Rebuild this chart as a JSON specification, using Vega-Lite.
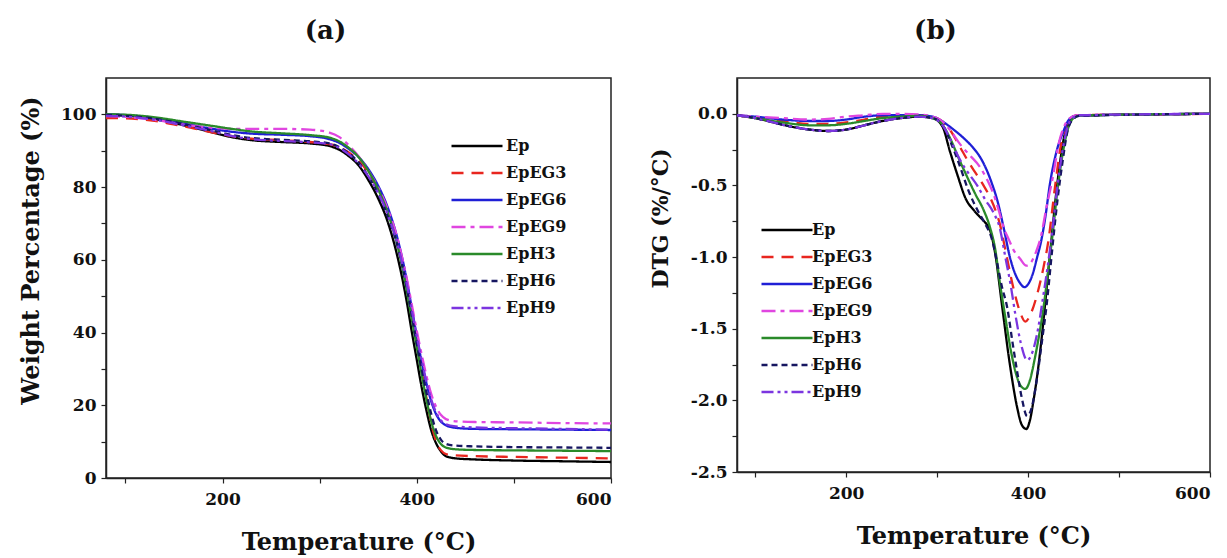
{
"$schema": "https://vega.github.io/schema/vega-lite/v6.json",
"background": "white",
"padding": {"left": 18, "top": 16, "right": 5, "bottom": 0},
"config": {
  "font": "DejaVu Serif",
  "view": {"stroke": "#222", "strokeWidth": 1.5},
  "axis": {"grid": false, "domainColor": "#222", "domainWidth": 1.5, "tickColor": "#222", "tickWidth": 1.2, "tickSize": 5, "labelFont": "DejaVu Serif", "labelFontWeight": "bold", "labelFontSize": 17, "labelColor": "#111", "titleFont": "DejaVu Serif", "titleFontWeight": "bold", "titleFontSize": 24, "titleColor": "#111", "labelPadding": 5},
  "axisX": {"labelPadding": 8, "titlePadding": 23},
  "legend": {"labelFont": "DejaVu Serif", "labelFontWeight": "bold", "labelFontSize": 16, "labelColor": "#111", "symbolType": "M-8.5,0H8.5", "symbolSize": 36, "symbolStrokeWidth": 2.5, "symbolFillColor": "transparent", "labelOffset": 21, "padding": 0, "rowPadding": 11},
  "title": {"font": "DejaVu Serif", "fontSize": 26, "fontWeight": "bold", "color": "#111"},
  "concat": {"spacing": 31}
},
"datasets": {
"tga": [
{"s":"Ep","T":80,"W":100},{"s":"Ep","T":100,"W":99.7},{"s":"Ep","T":130,"W":98.7},{"s":"Ep","T":160,"W":97},{"s":"Ep","T":190,"W":95},{"s":"Ep","T":210,"W":93.7},{"s":"Ep","T":230,"W":92.9},{"s":"Ep","T":260,"W":92.4},{"s":"Ep","T":290,"W":92},{"s":"Ep","T":310,"W":91.3},{"s":"Ep","T":320,"W":90.3},{"s":"Ep","T":330,"W":88.5},{"s":"Ep","T":340,"W":86},{"s":"Ep","T":350,"W":82},{"s":"Ep","T":360,"W":77},{"s":"Ep","T":370,"W":70.5},{"s":"Ep","T":380,"W":61},{"s":"Ep","T":385,"W":55},{"s":"Ep","T":390,"W":48},{"s":"Ep","T":395,"W":40},{"s":"Ep","T":400,"W":32.5},{"s":"Ep","T":405,"W":25},{"s":"Ep","T":410,"W":18.5},{"s":"Ep","T":415,"W":13},{"s":"Ep","T":420,"W":9.5},{"s":"Ep","T":425,"W":7.3},{"s":"Ep","T":430,"W":6.0},{"s":"Ep","T":440,"W":5.4},{"s":"Ep","T":460,"W":5.1},{"s":"Ep","T":500,"W":4.8},{"s":"Ep","T":550,"W":4.6},{"s":"Ep","T":600,"W":4.4},
{"s":"EpEG3","T":80,"W":99},{"s":"EpEG3","T":100,"W":98.9},{"s":"EpEG3","T":130,"W":98.2},{"s":"EpEG3","T":160,"W":96.7},{"s":"EpEG3","T":190,"W":95},{"s":"EpEG3","T":210,"W":94},{"s":"EpEG3","T":230,"W":93.3},{"s":"EpEG3","T":260,"W":92.9},{"s":"EpEG3","T":290,"W":92.4},{"s":"EpEG3","T":310,"W":91.8},{"s":"EpEG3","T":320,"W":91},{"s":"EpEG3","T":330,"W":89.5},{"s":"EpEG3","T":340,"W":87.3},{"s":"EpEG3","T":350,"W":84},{"s":"EpEG3","T":360,"W":79.5},{"s":"EpEG3","T":370,"W":73.5},{"s":"EpEG3","T":380,"W":65},{"s":"EpEG3","T":385,"W":59},{"s":"EpEG3","T":390,"W":52},{"s":"EpEG3","T":395,"W":44.5},{"s":"EpEG3","T":400,"W":37},{"s":"EpEG3","T":405,"W":29.5},{"s":"EpEG3","T":410,"W":22},{"s":"EpEG3","T":415,"W":15},{"s":"EpEG3","T":420,"W":10},{"s":"EpEG3","T":425,"W":7.6},{"s":"EpEG3","T":430,"W":6.6},{"s":"EpEG3","T":440,"W":6.2},{"s":"EpEG3","T":460,"W":6.0},{"s":"EpEG3","T":500,"W":5.8},{"s":"EpEG3","T":550,"W":5.6},{"s":"EpEG3","T":600,"W":5.4},
{"s":"EpEG6","T":80,"W":100},{"s":"EpEG6","T":100,"W":99.8},{"s":"EpEG6","T":130,"W":99},{"s":"EpEG6","T":160,"W":97.5},{"s":"EpEG6","T":190,"W":96},{"s":"EpEG6","T":210,"W":95.2},{"s":"EpEG6","T":230,"W":94.7},{"s":"EpEG6","T":260,"W":94.4},{"s":"EpEG6","T":290,"W":94},{"s":"EpEG6","T":310,"W":93.2},{"s":"EpEG6","T":320,"W":92.2},{"s":"EpEG6","T":330,"W":90.5},{"s":"EpEG6","T":340,"W":88.3},{"s":"EpEG6","T":350,"W":85},{"s":"EpEG6","T":360,"W":80.5},{"s":"EpEG6","T":370,"W":74.5},{"s":"EpEG6","T":380,"W":66},{"s":"EpEG6","T":385,"W":60.5},{"s":"EpEG6","T":390,"W":54},{"s":"EpEG6","T":395,"W":46.5},{"s":"EpEG6","T":400,"W":39},{"s":"EpEG6","T":405,"W":32},{"s":"EpEG6","T":410,"W":26},{"s":"EpEG6","T":415,"W":21},{"s":"EpEG6","T":420,"W":17.5},{"s":"EpEG6","T":425,"W":15.5},{"s":"EpEG6","T":430,"W":14.5},{"s":"EpEG6","T":440,"W":13.8},{"s":"EpEG6","T":460,"W":13.5},{"s":"EpEG6","T":500,"W":13.4},{"s":"EpEG6","T":550,"W":13.3},{"s":"EpEG6","T":600,"W":13.2},
{"s":"EpEG9","T":80,"W":99.5},{"s":"EpEG9","T":100,"W":99.3},{"s":"EpEG9","T":130,"W":98.5},{"s":"EpEG9","T":160,"W":97.2},{"s":"EpEG9","T":190,"W":96.3},{"s":"EpEG9","T":210,"W":96},{"s":"EpEG9","T":230,"W":96},{"s":"EpEG9","T":260,"W":96},{"s":"EpEG9","T":290,"W":95.8},{"s":"EpEG9","T":310,"W":95},{"s":"EpEG9","T":320,"W":93.8},{"s":"EpEG9","T":330,"W":91.5},{"s":"EpEG9","T":340,"W":88.5},{"s":"EpEG9","T":350,"W":84.5},{"s":"EpEG9","T":360,"W":80},{"s":"EpEG9","T":370,"W":74},{"s":"EpEG9","T":380,"W":66},{"s":"EpEG9","T":385,"W":60.5},{"s":"EpEG9","T":390,"W":54.5},{"s":"EpEG9","T":395,"W":47.5},{"s":"EpEG9","T":400,"W":40.5},{"s":"EpEG9","T":405,"W":34},{"s":"EpEG9","T":410,"W":28},{"s":"EpEG9","T":415,"W":23},{"s":"EpEG9","T":420,"W":19.5},{"s":"EpEG9","T":425,"W":17.3},{"s":"EpEG9","T":430,"W":16.2},{"s":"EpEG9","T":440,"W":15.6},{"s":"EpEG9","T":460,"W":15.4},{"s":"EpEG9","T":500,"W":15.3},{"s":"EpEG9","T":550,"W":15.1},{"s":"EpEG9","T":600,"W":15.0},
{"s":"EpH3","T":80,"W":100},{"s":"EpH3","T":100,"W":99.9},{"s":"EpH3","T":130,"W":99.2},{"s":"EpH3","T":160,"W":98},{"s":"EpH3","T":190,"W":96.8},{"s":"EpH3","T":210,"W":96},{"s":"EpH3","T":230,"W":95.3},{"s":"EpH3","T":260,"W":94.8},{"s":"EpH3","T":290,"W":94.3},{"s":"EpH3","T":310,"W":93.6},{"s":"EpH3","T":320,"W":92.6},{"s":"EpH3","T":330,"W":90.8},{"s":"EpH3","T":340,"W":88.3},{"s":"EpH3","T":350,"W":84.5},{"s":"EpH3","T":360,"W":79.5},{"s":"EpH3","T":370,"W":73},{"s":"EpH3","T":380,"W":64},{"s":"EpH3","T":385,"W":58},{"s":"EpH3","T":390,"W":51},{"s":"EpH3","T":395,"W":43.5},{"s":"EpH3","T":400,"W":36},{"s":"EpH3","T":405,"W":28.5},{"s":"EpH3","T":410,"W":21.5},{"s":"EpH3","T":415,"W":15.5},{"s":"EpH3","T":420,"W":11.5},{"s":"EpH3","T":425,"W":9.3},{"s":"EpH3","T":430,"W":8.4},{"s":"EpH3","T":440,"W":7.9},{"s":"EpH3","T":460,"W":7.7},{"s":"EpH3","T":500,"W":7.6},{"s":"EpH3","T":550,"W":7.5},{"s":"EpH3","T":600,"W":7.4},
{"s":"EpH6","T":80,"W":99.8},{"s":"EpH6","T":100,"W":99.6},{"s":"EpH6","T":130,"W":98.8},{"s":"EpH6","T":160,"W":97.3},{"s":"EpH6","T":190,"W":95.5},{"s":"EpH6","T":210,"W":94.3},{"s":"EpH6","T":230,"W":93.5},{"s":"EpH6","T":260,"W":93},{"s":"EpH6","T":290,"W":92.6},{"s":"EpH6","T":310,"W":92},{"s":"EpH6","T":320,"W":91},{"s":"EpH6","T":330,"W":89.3},{"s":"EpH6","T":340,"W":86.8},{"s":"EpH6","T":350,"W":83},{"s":"EpH6","T":360,"W":78.3},{"s":"EpH6","T":370,"W":72},{"s":"EpH6","T":380,"W":64},{"s":"EpH6","T":385,"W":58.5},{"s":"EpH6","T":390,"W":52},{"s":"EpH6","T":395,"W":44.5},{"s":"EpH6","T":400,"W":37},{"s":"EpH6","T":405,"W":30},{"s":"EpH6","T":410,"W":23.5},{"s":"EpH6","T":415,"W":17.5},{"s":"EpH6","T":420,"W":13},{"s":"EpH6","T":425,"W":10.5},{"s":"EpH6","T":430,"W":9.4},{"s":"EpH6","T":440,"W":8.9},{"s":"EpH6","T":460,"W":8.7},{"s":"EpH6","T":500,"W":8.5},{"s":"EpH6","T":550,"W":8.4},{"s":"EpH6","T":600,"W":8.3},
{"s":"EpH9","T":80,"W":99.6},{"s":"EpH9","T":100,"W":99.4},{"s":"EpH9","T":130,"W":98.5},{"s":"EpH9","T":160,"W":97},{"s":"EpH9","T":190,"W":95.3},{"s":"EpH9","T":210,"W":94},{"s":"EpH9","T":230,"W":93.2},{"s":"EpH9","T":260,"W":92.7},{"s":"EpH9","T":290,"W":92.3},{"s":"EpH9","T":310,"W":91.8},{"s":"EpH9","T":320,"W":90.8},{"s":"EpH9","T":330,"W":89},{"s":"EpH9","T":340,"W":86.5},{"s":"EpH9","T":350,"W":83},{"s":"EpH9","T":360,"W":78.5},{"s":"EpH9","T":370,"W":72.5},{"s":"EpH9","T":380,"W":64.5},{"s":"EpH9","T":385,"W":59},{"s":"EpH9","T":390,"W":53},{"s":"EpH9","T":395,"W":46},{"s":"EpH9","T":400,"W":39},{"s":"EpH9","T":405,"W":32.5},{"s":"EpH9","T":410,"W":26.5},{"s":"EpH9","T":415,"W":21.5},{"s":"EpH9","T":420,"W":18},{"s":"EpH9","T":425,"W":15.8},{"s":"EpH9","T":430,"W":14.8},{"s":"EpH9","T":440,"W":14.2},{"s":"EpH9","T":460,"W":13.9},{"s":"EpH9","T":500,"W":13.7},{"s":"EpH9","T":550,"W":13.5},{"s":"EpH9","T":600,"W":13.3}
],
"dtg": [
{"s":"Ep","T":80,"D":-0.01},{"s":"Ep","T":100,"D":-0.03},{"s":"Ep","T":120,"D":-0.06},{"s":"Ep","T":140,"D":-0.09},{"s":"Ep","T":160,"D":-0.11},{"s":"Ep","T":180,"D":-0.12},{"s":"Ep","T":200,"D":-0.11},{"s":"Ep","T":220,"D":-0.08},{"s":"Ep","T":240,"D":-0.05},{"s":"Ep","T":260,"D":-0.03},{"s":"Ep","T":280,"D":-0.02},{"s":"Ep","T":295,"D":-0.03},{"s":"Ep","T":306,"D":-0.09},{"s":"Ep","T":314,"D":-0.26},{"s":"Ep","T":322,"D":-0.42},{"s":"Ep","T":332,"D":-0.6},{"s":"Ep","T":340,"D":-0.67},{"s":"Ep","T":347,"D":-0.72},{"s":"Ep","T":353,"D":-0.76},{"s":"Ep","T":358,"D":-0.81},{"s":"Ep","T":364,"D":-0.98},{"s":"Ep","T":371,"D":-1.32},{"s":"Ep","T":380,"D":-1.75},{"s":"Ep","T":388,"D":-2.05},{"s":"Ep","T":393,"D":-2.17},{"s":"Ep","T":398,"D":-2.2},{"s":"Ep","T":402,"D":-2.14},{"s":"Ep","T":406,"D":-2.0},{"s":"Ep","T":411,"D":-1.78},{"s":"Ep","T":416,"D":-1.5},{"s":"Ep","T":421,"D":-1.18},{"s":"Ep","T":426,"D":-0.86},{"s":"Ep","T":431,"D":-0.55},{"s":"Ep","T":436,"D":-0.3},{"s":"Ep","T":441,"D":-0.12},{"s":"Ep","T":446,"D":-0.04},{"s":"Ep","T":452,"D":-0.015},{"s":"Ep","T":470,"D":-0.01},{"s":"Ep","T":520,"D":-0.005},{"s":"Ep","T":600,"D":0},
{"s":"EpEG3","T":80,"D":-0.01},{"s":"EpEG3","T":100,"D":-0.03},{"s":"EpEG3","T":130,"D":-0.05},{"s":"EpEG3","T":160,"D":-0.07},{"s":"EpEG3","T":180,"D":-0.07},{"s":"EpEG3","T":200,"D":-0.06},{"s":"EpEG3","T":220,"D":-0.04},{"s":"EpEG3","T":240,"D":-0.02},{"s":"EpEG3","T":260,"D":-0.015},{"s":"EpEG3","T":280,"D":-0.01},{"s":"EpEG3","T":295,"D":-0.02},{"s":"EpEG3","T":305,"D":-0.05},{"s":"EpEG3","T":315,"D":-0.12},{"s":"EpEG3","T":325,"D":-0.23},{"s":"EpEG3","T":334,"D":-0.33},{"s":"EpEG3","T":343,"D":-0.42},{"s":"EpEG3","T":351,"D":-0.5},{"s":"EpEG3","T":358,"D":-0.58},{"s":"EpEG3","T":364,"D":-0.67},{"s":"EpEG3","T":369,"D":-0.77},{"s":"EpEG3","T":376,"D":-0.98},{"s":"EpEG3","T":384,"D":-1.22},{"s":"EpEG3","T":391,"D":-1.38},{"s":"EpEG3","T":397,"D":-1.45},{"s":"EpEG3","T":404,"D":-1.38},{"s":"EpEG3","T":410,"D":-1.26},{"s":"EpEG3","T":417,"D":-1.07},{"s":"EpEG3","T":422,"D":-0.9},{"s":"EpEG3","T":430,"D":-0.49},{"s":"EpEG3","T":436,"D":-0.22},{"s":"EpEG3","T":442,"D":-0.08},{"s":"EpEG3","T":448,"D":-0.025},{"s":"EpEG3","T":456,"D":-0.01},{"s":"EpEG3","T":520,"D":-0.005},{"s":"EpEG3","T":600,"D":0},
{"s":"EpEG6","T":80,"D":-0.01},{"s":"EpEG6","T":100,"D":-0.02},{"s":"EpEG6","T":130,"D":-0.04},{"s":"EpEG6","T":160,"D":-0.05},{"s":"EpEG6","T":180,"D":-0.05},{"s":"EpEG6","T":200,"D":-0.04},{"s":"EpEG6","T":220,"D":-0.02},{"s":"EpEG6","T":240,"D":-0.01},{"s":"EpEG6","T":260,"D":-0.01},{"s":"EpEG6","T":280,"D":-0.01},{"s":"EpEG6","T":295,"D":-0.02},{"s":"EpEG6","T":305,"D":-0.05},{"s":"EpEG6","T":314,"D":-0.09},{"s":"EpEG6","T":322,"D":-0.13},{"s":"EpEG6","T":331,"D":-0.18},{"s":"EpEG6","T":340,"D":-0.24},{"s":"EpEG6","T":348,"D":-0.31},{"s":"EpEG6","T":355,"D":-0.4},{"s":"EpEG6","T":361,"D":-0.5},{"s":"EpEG6","T":366,"D":-0.6},{"s":"EpEG6","T":373,"D":-0.79},{"s":"EpEG6","T":380,"D":-1.0},{"s":"EpEG6","T":386,"D":-1.12},{"s":"EpEG6","T":391,"D":-1.18},{"s":"EpEG6","T":396,"D":-1.21},{"s":"EpEG6","T":400,"D":-1.19},{"s":"EpEG6","T":405,"D":-1.12},{"s":"EpEG6","T":410,"D":-1.0},{"s":"EpEG6","T":414,"D":-0.9},{"s":"EpEG6","T":419,"D":-0.72},{"s":"EpEG6","T":424,"D":-0.49},{"s":"EpEG6","T":431,"D":-0.27},{"s":"EpEG6","T":439,"D":-0.12},{"s":"EpEG6","T":445,"D":-0.04},{"s":"EpEG6","T":452,"D":-0.015},{"s":"EpEG6","T":470,"D":-0.01},{"s":"EpEG6","T":600,"D":0},
{"s":"EpEG9","T":80,"D":-0.01},{"s":"EpEG9","T":100,"D":-0.02},{"s":"EpEG9","T":130,"D":-0.03},{"s":"EpEG9","T":160,"D":-0.04},{"s":"EpEG9","T":180,"D":-0.035},{"s":"EpEG9","T":200,"D":-0.02},{"s":"EpEG9","T":220,"D":-0.01},{"s":"EpEG9","T":240,"D":0.0},{"s":"EpEG9","T":260,"D":0.0},{"s":"EpEG9","T":280,"D":-0.005},{"s":"EpEG9","T":295,"D":-0.02},{"s":"EpEG9","T":305,"D":-0.05},{"s":"EpEG9","T":315,"D":-0.12},{"s":"EpEG9","T":325,"D":-0.21},{"s":"EpEG9","T":336,"D":-0.29},{"s":"EpEG9","T":347,"D":-0.37},{"s":"EpEG9","T":355,"D":-0.46},{"s":"EpEG9","T":362,"D":-0.56},{"s":"EpEG9","T":368,"D":-0.68},{"s":"EpEG9","T":373,"D":-0.79},{"s":"EpEG9","T":379,"D":-0.88},{"s":"EpEG9","T":384,"D":-0.95},{"s":"EpEG9","T":391,"D":-1.01},{"s":"EpEG9","T":398,"D":-1.06},{"s":"EpEG9","T":404,"D":-1.03},{"s":"EpEG9","T":409,"D":-0.96},{"s":"EpEG9","T":414,"D":-0.86},{"s":"EpEG9","T":420,"D":-0.66},{"s":"EpEG9","T":427,"D":-0.45},{"s":"EpEG9","T":434,"D":-0.2},{"s":"EpEG9","T":441,"D":-0.07},{"s":"EpEG9","T":447,"D":-0.025},{"s":"EpEG9","T":455,"D":-0.01},{"s":"EpEG9","T":600,"D":0},
{"s":"EpH3","T":80,"D":-0.01},{"s":"EpH3","T":100,"D":-0.03},{"s":"EpH3","T":130,"D":-0.06},{"s":"EpH3","T":160,"D":-0.08},{"s":"EpH3","T":180,"D":-0.08},{"s":"EpH3","T":200,"D":-0.07},{"s":"EpH3","T":220,"D":-0.05},{"s":"EpH3","T":240,"D":-0.03},{"s":"EpH3","T":260,"D":-0.02},{"s":"EpH3","T":280,"D":-0.015},{"s":"EpH3","T":295,"D":-0.03},{"s":"EpH3","T":305,"D":-0.07},{"s":"EpH3","T":315,"D":-0.18},{"s":"EpH3","T":323,"D":-0.3},{"s":"EpH3","T":333,"D":-0.44},{"s":"EpH3","T":342,"D":-0.56},{"s":"EpH3","T":351,"D":-0.67},{"s":"EpH3","T":358,"D":-0.79},{"s":"EpH3","T":364,"D":-0.95},{"s":"EpH3","T":369,"D":-1.18},{"s":"EpH3","T":375,"D":-1.42},{"s":"EpH3","T":381,"D":-1.65},{"s":"EpH3","T":387,"D":-1.82},{"s":"EpH3","T":392,"D":-1.9},{"s":"EpH3","T":397,"D":-1.92},{"s":"EpH3","T":402,"D":-1.86},{"s":"EpH3","T":407,"D":-1.72},{"s":"EpH3","T":412,"D":-1.55},{"s":"EpH3","T":417,"D":-1.35},{"s":"EpH3","T":422,"D":-1.1},{"s":"EpH3","T":427,"D":-0.84},{"s":"EpH3","T":432,"D":-0.55},{"s":"EpH3","T":438,"D":-0.28},{"s":"EpH3","T":444,"D":-0.1},{"s":"EpH3","T":450,"D":-0.03},{"s":"EpH3","T":458,"D":-0.012},{"s":"EpH3","T":600,"D":0},
{"s":"EpH6","T":80,"D":-0.01},{"s":"EpH6","T":100,"D":-0.03},{"s":"EpH6","T":120,"D":-0.06},{"s":"EpH6","T":140,"D":-0.09},{"s":"EpH6","T":160,"D":-0.11},{"s":"EpH6","T":180,"D":-0.12},{"s":"EpH6","T":200,"D":-0.11},{"s":"EpH6","T":220,"D":-0.08},{"s":"EpH6","T":240,"D":-0.05},{"s":"EpH6","T":260,"D":-0.03},{"s":"EpH6","T":280,"D":-0.02},{"s":"EpH6","T":295,"D":-0.03},{"s":"EpH6","T":306,"D":-0.08},{"s":"EpH6","T":315,"D":-0.2},{"s":"EpH6","T":323,"D":-0.33},{"s":"EpH6","T":336,"D":-0.56},{"s":"EpH6","T":345,"D":-0.68},{"s":"EpH6","T":353,"D":-0.77},{"s":"EpH6","T":360,"D":-0.87},{"s":"EpH6","T":366,"D":-1.04},{"s":"EpH6","T":371,"D":-1.2},{"s":"EpH6","T":377,"D":-1.35},{"s":"EpH6","T":383,"D":-1.6},{"s":"EpH6","T":388,"D":-1.8},{"s":"EpH6","T":393,"D":-1.98},{"s":"EpH6","T":399,"D":-2.11},{"s":"EpH6","T":404,"D":-2.05},{"s":"EpH6","T":409,"D":-1.88},{"s":"EpH6","T":415,"D":-1.6},{"s":"EpH6","T":421,"D":-1.3},{"s":"EpH6","T":426,"D":-0.98},{"s":"EpH6","T":432,"D":-0.62},{"s":"EpH6","T":438,"D":-0.33},{"s":"EpH6","T":443,"D":-0.13},{"s":"EpH6","T":449,"D":-0.04},{"s":"EpH6","T":456,"D":-0.015},{"s":"EpH6","T":600,"D":0},
{"s":"EpH9","T":80,"D":-0.01},{"s":"EpH9","T":100,"D":-0.03},{"s":"EpH9","T":120,"D":-0.06},{"s":"EpH9","T":140,"D":-0.09},{"s":"EpH9","T":160,"D":-0.11},{"s":"EpH9","T":180,"D":-0.12},{"s":"EpH9","T":200,"D":-0.11},{"s":"EpH9","T":220,"D":-0.08},{"s":"EpH9","T":240,"D":-0.05},{"s":"EpH9","T":260,"D":-0.03},{"s":"EpH9","T":280,"D":-0.02},{"s":"EpH9","T":295,"D":-0.03},{"s":"EpH9","T":306,"D":-0.08},{"s":"EpH9","T":316,"D":-0.2},{"s":"EpH9","T":325,"D":-0.32},{"s":"EpH9","T":334,"D":-0.41},{"s":"EpH9","T":344,"D":-0.5},{"s":"EpH9","T":353,"D":-0.6},{"s":"EpH9","T":362,"D":-0.69},{"s":"EpH9","T":369,"D":-0.8},{"s":"EpH9","T":375,"D":-1.0},{"s":"EpH9","T":381,"D":-1.2},{"s":"EpH9","T":386,"D":-1.4},{"s":"EpH9","T":392,"D":-1.6},{"s":"EpH9","T":399,"D":-1.72},{"s":"EpH9","T":405,"D":-1.66},{"s":"EpH9","T":411,"D":-1.5},{"s":"EpH9","T":416,"D":-1.3},{"s":"EpH9","T":421,"D":-1.09},{"s":"EpH9","T":427,"D":-0.8},{"s":"EpH9","T":432,"D":-0.52},{"s":"EpH9","T":438,"D":-0.25},{"s":"EpH9","T":444,"D":-0.08},{"s":"EpH9","T":450,"D":-0.025},{"s":"EpH9","T":458,"D":-0.01},{"s":"EpH9","T":600,"D":0}
]
},
"hconcat": [
{
  "width": 505, "height": 400,
  "title": {"text": "(a)", "dx": -33, "offset": 34.5},
  "data": {"name": "tga"},
  "mark": {"type": "line", "strokeWidth": 2.3, "interpolate": "monotone"},
  "encoding": {
    "x": {"field": "T", "type": "quantitative", "scale": {"domain": [80, 600], "nice": false}, "axis": {"values": [100, 200, 300, 400, 500, 600], "labelExpr": "datum.value % 200 === 0 ? datum.label : ''", "title": "Temperature (°C)"}},
    "y": {"field": "W", "type": "quantitative", "scale": {"domain": [0, 110], "nice": false}, "axis": {"values": [0, 10, 20, 30, 40, 50, 60, 70, 80, 90, 100], "labelExpr": "datum.value % 20 === 0 ? datum.label : ''", "title": "Weight Percentage (%)", "titlePadding": 17, "titleY": 172}},
    "color": {"field": "s", "type": "nominal", "scale": {"domain": ["Ep", "EpEG3", "EpEG6", "EpEG9", "EpH3", "EpH6", "EpH9"], "range": ["#000000", "#e8261f", "#1f1fd6", "#e046e0", "#2a8a2a", "#161660", "#7b35e0"]}, "legend": {"orient": "none", "legendX": 363, "legendY": 60, "title": null, "labelOffset": 21}},
    "strokeDash": {"field": "s", "type": "nominal", "scale": {"domain": ["Ep", "EpEG3", "EpEG6", "EpEG9", "EpH3", "EpH6", "EpH9"], "range": [[1, 0], [12, 8], [1, 0], [14, 5, 4, 5], [1, 0], [6, 4], [12, 4, 3, 4, 3, 4]]}, "legend": {"orient": "none", "legendX": 363, "legendY": 60, "title": null, "labelOffset": 21}}
  }
},
{
  "width": 473, "height": 394,
  "title": {"text": "(b)", "dx": -38, "offset": 34.5},
  "data": {"name": "dtg"},
  "mark": {"type": "line", "strokeWidth": 2.3, "interpolate": "monotone"},
  "encoding": {
    "x": {"field": "T", "type": "quantitative", "scale": {"domain": [80, 600], "nice": false}, "axis": {"values": [100, 200, 300, 400, 500, 600], "labelExpr": "datum.value % 200 === 0 ? datum.label : ''", "title": "Temperature (°C)"}},
    "y": {"field": "D", "type": "quantitative", "scale": {"domain": [-2.5, 0.25], "nice": false, "zero": false}, "axis": {"values": [-2.5, -2.25, -2, -1.75, -1.5, -1.25, -1, -0.75, -0.5, -0.25, 0], "labelExpr": "(datum.value * 4) % 2 === 0 ? replace(format(datum.value, '.1f'), '\u2212', '-') : ''", "title": "DTG  (%/°C)", "titleFontSize": 22, "titlePadding": 18, "titleY": 140}},
    "color": {"field": "s", "type": "nominal", "scale": {"domain": ["Ep", "EpEG3", "EpEG6", "EpEG9", "EpH3", "EpH6", "EpH9"], "range": ["#000000", "#e8261f", "#1f1fd6", "#e046e0", "#2a8a2a", "#161660", "#7b35e0"]}, "legend": {"orient": "none", "legendX": 42, "legendY": 144, "title": null, "labelOffset": 17}},
    "strokeDash": {"field": "s", "type": "nominal", "scale": {"domain": ["Ep", "EpEG3", "EpEG6", "EpEG9", "EpH3", "EpH6", "EpH9"], "range": [[1, 0], [12, 8], [1, 0], [14, 5, 4, 5], [1, 0], [6, 4], [12, 4, 3, 4, 3, 4]]}, "legend": {"orient": "none", "legendX": 42, "legendY": 144, "title": null, "labelOffset": 17}}
  }
}
],
"resolve": {"scale": {"color": "independent", "strokeDash": "independent", "y": "independent", "x": "independent"}, "legend": {"color": "independent", "strokeDash": "independent"}}
}
